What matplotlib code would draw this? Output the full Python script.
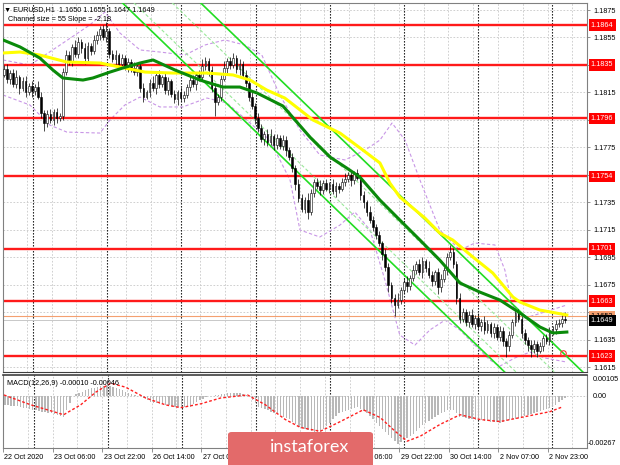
import matplotlib
matplotlib.use("Agg")
import matplotlib.pyplot as plt
import matplotlib.transforms as mtransforms
from matplotlib.patches import FancyBboxPatch

plt.rcParams['font.family'] = ['Liberation Sans', 'DejaVu Sans']

# EURUSD H1, 22 Oct 2020 - 2 Nov 2020 (closes)
closes = [
    1.1832, 1.1825, 1.1829, 1.1821, 1.1826, 1.1818, 1.1823, 1.1815, 1.1820, 1.1816,
    1.1819, 1.1812, 1.1800, 1.1793, 1.1799, 1.1795, 1.1801, 1.1796, 1.1798, 1.1830,
    1.1842, 1.1838, 1.1848, 1.1843, 1.1852, 1.1847, 1.1840, 1.1849, 1.1845, 1.1853,
    1.1857, 1.1861, 1.1855, 1.1860, 1.1843, 1.1839, 1.1842, 1.1836, 1.1840, 1.1834,
    1.1837, 1.1833, 1.1830, 1.1834, 1.1818, 1.1812, 1.1815, 1.1822, 1.1818, 1.1828,
    1.1821, 1.1826, 1.1817, 1.1823, 1.1814, 1.1810, 1.1815, 1.1811, 1.1813, 1.1819,
    1.1824, 1.1821, 1.1828, 1.1826, 1.1834, 1.1838, 1.1831, 1.1818, 1.1808, 1.1812,
    1.1825, 1.1833, 1.1838, 1.1835, 1.1840, 1.1832, 1.1836, 1.1828, 1.1822, 1.1812,
    1.1805, 1.1796, 1.1789, 1.1781, 1.1785, 1.1779, 1.1783, 1.1777, 1.1782, 1.1776,
    1.1780, 1.1773, 1.1768, 1.1760, 1.1748, 1.1738, 1.1730, 1.1737, 1.1728, 1.1742,
    1.1750, 1.1747, 1.1744, 1.1749, 1.1745, 1.1748, 1.1743, 1.1747, 1.1745, 1.1750,
    1.1752, 1.1755, 1.1751, 1.1756, 1.1753, 1.1740, 1.1735, 1.1728, 1.1722, 1.1717,
    1.1711, 1.1705, 1.1697, 1.1688, 1.1675, 1.1665, 1.1660, 1.1664, 1.1671, 1.1677,
    1.1674, 1.1680, 1.1686, 1.1690, 1.1684, 1.1692, 1.1687, 1.1682, 1.1678, 1.1684,
    1.1673, 1.1679, 1.1686, 1.1695, 1.1699, 1.1690, 1.1665, 1.1650, 1.1655, 1.1648,
    1.1653, 1.1646, 1.1651, 1.1645, 1.1648, 1.1642, 1.1646, 1.1640, 1.1644, 1.1637,
    1.1641, 1.1634, 1.1630, 1.1638, 1.1648, 1.1654, 1.1650, 1.1640, 1.1635, 1.1631,
    1.1628, 1.1632, 1.1627, 1.1630, 1.1636, 1.1634, 1.1640, 1.1643, 1.1646, 1.1647,
    1.1650, 1.1649,
]
first_open = 1.1828

# wick lengths in pips above / below the body
upper_wick = [
    3, 4, 2, 3, 5, 2, 3, 4, 2, 3, 2, 4, 3, 2, 3, 4, 2, 3, 2, 3,
    4, 3, 2, 5, 3, 2, 4, 3, 2, 4, 3, 2, 3, 6, 2, 3, 4, 2, 3, 2,
    3, 2, 4, 2, 3, 4, 2, 3, 5, 2, 3, 2, 4, 3, 2, 3, 2, 4, 3, 2,
    3, 4, 2, 3, 5, 3, 2, 3, 4, 2, 3, 5, 2, 3, 4, 2, 3, 2, 3, 2,
    3, 2, 4, 3, 2, 3, 5, 2, 3, 2, 4, 3, 2, 3, 2, 4, 3, 2, 5, 3,
    2, 3, 4, 2, 3, 2, 4, 3, 2, 3, 4, 2, 3, 2, 3, 2, 3, 2, 4, 3,
    2, 3, 2, 4, 3, 2, 3, 5, 2, 3, 4, 2, 3, 2, 4, 3, 2, 5, 3, 2,
    3, 4, 2, 3, 5, 3, 2, 4, 3, 2, 3, 4, 2, 3, 2, 4, 3, 2, 3, 2,
    4, 3, 2, 3, 2, 4, 3, 2, 3, 2, 4, 3, 2, 3, 2, 3, 4, 2, 3, 3,
    3, 5,
]
lower_wick = [
    2, 3, 4, 2, 3, 4, 2, 3, 2, 4, 3, 2, 4, 6, 3, 2, 4, 3, 2, 3,
    2, 3, 4, 2, 3, 3, 4, 2, 3, 2, 3, 4, 2, 3, 3, 2, 4, 3, 2, 3,
    4, 3, 2, 3, 3, 4, 2, 3, 2, 4, 3, 2, 3, 4, 2, 3, 4, 2, 3, 2,
    3, 2, 4, 3, 2, 3, 4, 3, 10, 2, 3, 2, 4, 3, 2, 3, 4, 2, 3, 3,
    2, 4, 3, 2, 4, 3, 2, 4, 3, 2, 3, 4, 2, 3, 4, 3, 2, 3, 5, 2,
    3, 2, 4, 3, 2, 3, 2, 4, 3, 2, 3, 2, 4, 3, 2, 3, 4, 3, 2, 3,
    3, 2, 4, 3, 5, 3, 8, 2, 3, 2, 4, 3, 2, 3, 2, 4, 3, 2, 4, 3,
    5, 3, 2, 4, 2, 3, 4, 3, 2, 3, 4, 2, 3, 2, 4, 3, 2, 3, 4, 2,
    3, 4, 8, 3, 2, 3, 2, 4, 3, 4, 6, 3, 5, 2, 3, 2, 3, 2, 4, 2,
    3, 2,
]

# moving averages (bar index, price)
ma_green_bar = [-0.3, 5.2, 11.6, 15.8, 19.0, 25.5, 28.7, 34.2, 38.4, 43.9, 48.1, 55.2,
                63.2, 70.6, 76.1, 81.6, 90.0, 98.7, 105.2, 110.6, 114.8, 121.3, 127.7,
                134.2, 140.6, 147.1, 153.5, 160.0, 166.5, 172.9, 177.1, 181.6]
ma_green_val = [1.18532, 1.18481, 1.18400, 1.18313, 1.18255, 1.18240, 1.18255, 1.18298,
                1.18328, 1.18364, 1.18386, 1.18313, 1.18240, 1.18189, 1.18189, 1.18146,
                1.18051, 1.17825, 1.17679, 1.17599, 1.17534, 1.17366, 1.17221, 1.17075,
                1.16929, 1.16762, 1.16696, 1.16638, 1.16543, 1.16442, 1.16398, 1.16405]
ma_yellow_bar = [-0.3, 5.2, 11.6, 20.3, 31.0, 37.4, 45.5, 54.5, 65.5, 73.9, 79.4, 84.8,
                 90.6, 99.7, 108.4, 115.8, 121.3, 124.5, 127.7, 135.8, 140.6, 144.8,
                 151.3, 157.7, 164.2, 166.5, 172.9, 181.6]
ma_yellow_val = [1.18437, 1.18444, 1.18422, 1.18371, 1.18364, 1.18335, 1.18298, 1.18291,
                 1.18291, 1.18277, 1.18240, 1.18167, 1.18109, 1.17949, 1.17854, 1.17730,
                 1.17636, 1.17490, 1.17388, 1.17235, 1.17126, 1.17075, 1.16951, 1.16835,
                 1.16660, 1.16623, 1.16565, 1.16529]

# envelope bands (violet dotted)
band_up_bar = [-0.3, 8.4, 18.1, 27.7, 32.6, 37.4, 43.9, 50.3, 58.4, 64.8, 71.3, 77.7,
               83.2, 89.0, 95.5, 101.9, 110.0, 116.5, 121.3, 125.2, 129.4, 134.2, 140.6,
               147.1, 151.9, 158.4, 161.6, 163.9, 168.1, 174.5, 181.6]
band_up_val = [1.18386, 1.18349, 1.18495, 1.18641, 1.18735, 1.18583, 1.18459, 1.18444,
               1.18422, 1.18495, 1.18532, 1.18495, 1.18422, 1.18131, 1.17876, 1.17694,
               1.17658, 1.17730, 1.17803, 1.17927, 1.17803, 1.17512, 1.17148, 1.17002,
               1.17053, 1.17039, 1.16857, 1.16602, 1.16507, 1.16551, 1.16602]
band_lo_bar = [-0.3, 8.4, 14.8, 20.3, 31.0, 34.2, 39.0, 43.9, 50.3, 57.7, 65.5, 71.9,
               79.4, 85.8, 92.3, 95.5, 101.9, 108.4, 113.2, 118.1, 122.9, 127.7, 132.6,
               137.4, 142.3, 147.1, 151.9, 156.8, 160.0, 164.8, 169.7, 174.5, 181.6]
band_lo_val = [1.18131, 1.18058, 1.17912, 1.17861, 1.17854, 1.17949, 1.18058, 1.18116,
               1.18044, 1.18044, 1.18109, 1.18073, 1.17927, 1.17803, 1.17512, 1.17148,
               1.17097, 1.17184, 1.17279, 1.17148, 1.16784, 1.16383, 1.16310, 1.16420,
               1.16492, 1.16420, 1.16310, 1.16201, 1.16157, 1.16216, 1.16259, 1.16216,
               1.16186]

# linear regression channel: size 55 pips, slope -2.18 pips/bar
ch_bar = 37.4
ch_low_price = 1.1882
ch_slope = -0.000218
ch_size = 0.0055
ch_inner = [0.0008, 0.0035]

levels = [1.1864, 1.1835, 1.1796, 1.1754, 1.1701, 1.1663, 1.1623]
bid, ask = 1.1649, 1.1652
touch_bar, touch_price = 180.3, 1.1625

# MACD(12,26,9) histogram, 1e-5 units
macd_hist = [
    -45, -47, -49, -51, -53, -55, -59, -63, -66, -70, -74, -77, -81,
    -84, -87, -90, -94, -97, -102, -107, -70, -35, 0,
    12, 18, 25, 31, 37, 43, 46, 50, 53, 56, 58,
    54, 50, 45, 38, 31, 24, 17, 13, 9, 4, 0,
    -10, -20, -30, -33, -36, -39, -42, -45, -48, -51, -54, -57, -60,
    -58, -57, -55, -43, -31, -19, -13, -6, 0,
    3, 6, 9, 11, 14, 17, 17, 17, 17, 17, 11, 6, 0,
    -18, -37, -55, -61, -68, -74, -81, -87, -94, -101, -108, -115, -122,
    -135, -147, -160, -166, -172, -178, -184, -186, -188, -190,
    -173, -157, -140, -122, -105, -87, -82, -76, -71, -66, -60, -55,
    -66, -76, -87, -104, -121, -138, -155, -172, -190,
    -205, -221, -236, -252, -241, -231, -220, -210,
    -196, -181, -167, -152, -138, -128, -119, -109, -100, -90, -81, -71,
    -71, -71, -89, -107, -111, -115, -118, -122,
    -124, -126, -127, -129, -131, -133, -134, -136, -138,
    -134, -130, -126, -122, -117, -112, -107, -102, -97, -92, -87,
    -82, -76, -71, -66, -60, -55, -44, -32, -21, -9,
]
signal_bar = [-0.3, 8.4, 19.0, 24.5, 29.4, 34.2, 39.0, 45.5, 51.9, 56.8, 63.2, 69.7,
              78.4, 84.2, 90.6, 95.5, 101.9, 108.4, 115.8, 121.3, 126.1, 130.0, 134.2,
              140.6, 147.1, 153.5, 160.0, 166.5, 176.1, 180.3]
signal_val = [7, -45, -97, -45, 22, 69, 48, -9, -45, -60, -40, -9,
              7, -45, -122, -164, -184, -133, -71, -112, -184, -236, -210,
              -148, -97, -122, -133, -112, -81, -55]

time_labels = ["22 Oct 2020", "23 Oct 06:00", "23 Oct 22:00", "26 Oct 14:00", "27 Oct 06:00",
               "27 Oct 22:00", "28 Oct 14:00", "29 Oct 06:00", "29 Oct 22:00", "30 Oct 14:00",
               "2 Nov 07:00", "2 Nov 23:00"]
time_bars = [-0.6 + 16 * k for k in range(len(time_labels))]
grid_bars = [-0.6 + 8 * k for k in range(24)]
day_bars = [9.4, 33.3, 57.2, 81.2, 105.1, 129.0, 152.9, 176.8]
price_ticks = [1.1615 + 0.002 * k for k in range(14)]
# scale labels that sit fully under a level tag are not shown
hidden_ticks = ["1.1835", "1.1755", "1.1655"]

for name, arr in [("upper_wick", upper_wick), ("lower_wick", lower_wick), ("macd_hist", macd_hist)]:
    if len(arr) != len(closes):
        raise SystemExit(f"{name}: {len(arr)} vs {len(closes)}")

opens = [first_open] + closes[:-1]
idx = list(range(len(closes)))

W, H = 620, 465
fig = plt.figure(figsize=(W / 100, H / 100), dpi=100)
ax = fig.add_axes([3 / W, 1 - 372 / H, 584 / W, 369 / H])
axm = fig.add_axes([3 / W, 1 - 448 / H, 584 / W, 73 / H])
xlim = (-0.3, 188.1)

# ---- price panel
ax.set_xlim(*xlim)
ax.set_ylim(1.16114, 1.18801)
for p in price_ticks:
    ax.axhline(p, color="#c8c8c8", lw=0.6, ls=(0, (2, 2)), zorder=0)
for b in grid_bars:
    ax.axvline(b, color="#c8c8c8", lw=0.6, ls=(0, (2, 2)), zorder=0)
    axm.axvline(b, color="#c8c8c8", lw=0.6, ls=(0, (2, 2)), zorder=0)
for b in day_bars:
    ax.axvline(b, color="black", lw=0.8, ls=(0, (1.2, 1.5)), zorder=1)
    axm.axvline(b, color="black", lw=0.8, ls=(0, (1.2, 1.5)), zorder=1)

ax.plot(band_up_bar, band_up_val, color="#c896e6", lw=0.8, ls=(0, (3, 2)), zorder=2)
ax.plot(band_lo_bar, band_lo_val, color="#c896e6", lw=0.8, ls=(0, (3, 2)), zorder=2)

for lvl in levels:
    ax.axhline(lvl, color="#ff1a1a", lw=1.7, zorder=2)
ax.axhline(ask, color="#f4a070", lw=0.8, zorder=2)
ax.axhline(bid, color="#c8c8c8", lw=0.7, zorder=2)

xs = [-2, 192]
low_line = [ch_low_price + ch_slope * (x - ch_bar) for x in xs]
ax.plot(xs, low_line, color="#22dd22", lw=1.2, zorder=3)
ax.plot(xs, [v + ch_size for v in low_line], color="#22dd22", lw=1.2, zorder=3)
for off in ch_inner:
    ax.plot(xs, [v + off for v in low_line], color="#9ae89a", lw=0.8, ls=(0, (3, 2)), zorder=3)

# candles
for i, o, c, u, d in zip(idx, opens, closes, upper_wick, lower_wick):
    top, bot = max(o, c), min(o, c)
    ax.vlines(i, bot - d * 1e-4, top + u * 1e-4, color="black", lw=0.5, zorder=4)
    ax.bar(i, max(top - bot, 0.00004), bottom=bot, width=0.55,
           color="white" if c > o else "black", edgecolor="black", lw=0.4, zorder=5)

ax.plot(ma_yellow_bar, ma_yellow_val, color="#ffff00", lw=2.2, zorder=6)
ax.plot(ma_green_bar, ma_green_val, color="#0a8a0a", lw=2.2, zorder=6)
ax.plot([touch_bar], [touch_price], "o", ms=4, mfc="none", mec="#ff3030", mew=0.8, zorder=7)

ax.set_xticks([])
ax.yaxis.tick_right()
ax.set_yticks(price_ticks)
tick_text = [f"{p:.4f}" for p in price_ticks]
ax.set_yticklabels(["" if t in hidden_ticks else t for t in tick_text])
ax.tick_params(axis="y", length=2.5, width=0.6, color="#808080", labelsize=5.2, pad=2)

tr = mtransforms.blended_transform_factory(ax.transAxes, ax.transData)
for lvl in levels:
    ax.text(1.0065, lvl, f"{lvl:.4f}", transform=tr, color="white", fontsize=5.2,
            va="center", ha="left", zorder=10,
            bbox=dict(boxstyle="square,pad=0.3", fc="#ff0000", ec="none"))
ax.text(1.0065, ask, f"{ask:.4f}", transform=tr, color="black", fontsize=5.2,
        va="center", ha="left", zorder=10,
        bbox=dict(boxstyle="square,pad=0.3", fc="#f4a070", ec="none"))
ax.text(1.0065, bid, f"{bid:.4f}", transform=tr, color="white", fontsize=5.2,
        va="center", ha="left", zorder=11,
        bbox=dict(boxstyle="square,pad=0.3", fc="black", ec="none"))

ax.text(0.002, 0.992, "\u25bc EURUSD,H1  1.1650 1.1655 1.1647 1.1649", transform=ax.transAxes,
        fontsize=5.2, va="top", ha="left", zorder=10)
ax.text(0.009, 0.965, "Channel size = 55 Slope = -2.18", transform=ax.transAxes,
        fontsize=5.2, va="top", ha="left", zorder=10)

# ---- MACD panel
axm.set_xlim(*xlim)
axm.set_ylim(-0.00272, 0.00112)
axm.axhline(0, color="#c0c0c0", lw=0.6, ls=(0, (2, 2)), zorder=1)
axm.bar(idx, [v * 1e-5 for v in macd_hist], width=0.45, color="#b8b8b8", zorder=2)
axm.plot(signal_bar, [v * 1e-5 for v in signal_val], color="#ff2020", lw=1.0,
         ls=(0, (2, 1.5)), zorder=3)
axm.text(0.007, 0.93, "MACD(12,26,9) -0.00010 -0.00046", transform=axm.transAxes,
         fontsize=5.2, va="top", ha="left")
trm = mtransforms.blended_transform_factory(axm.transAxes, axm.transData)
axm.text(1.009, 0.00105, "0.00105", transform=trm, fontsize=5.2, va="top", ha="left")
axm.text(1.009, 0.0, "0.00", transform=trm, fontsize=5.2, va="center", ha="left")
axm.text(1.002, -0.00267, "-0.00267", transform=trm, fontsize=5.2, va="bottom", ha="left")
axm.set_yticks([])
axm.set_xticks(time_bars)
axm.set_xticklabels(time_labels, fontsize=5.2, ha="left")
axm.tick_params(axis="x", length=3, width=0.6, color="#808080", pad=1.5)
offset = mtransforms.ScaledTranslation(1.5 / 100, 0, fig.dpi_scale_trans)
for lab in axm.get_xticklabels():
    lab.set_transform(lab.get_transform() + offset)

for a in (ax, axm):
    for s in a.spines.values():
        s.set_color("#808080")
        s.set_linewidth(0.8)
axm.spines["top"].set_color("#404040")
axm.spines["top"].set_linewidth(1.2)
ax.spines["bottom"].set_color("#404040")

# watermark
fig.patches.append(FancyBboxPatch((228 / W, -0.01), 145 / W, 33 / H + 0.01,
                                  boxstyle="round,pad=0,rounding_size=0.006",
                                  transform=fig.transFigure, fc="#e36a6a", ec="none",
                                  zorder=20))
fig.text(310 / W, 1 - 447 / H, "instaforex", color="white", fontsize=13, family="Lato",
         ha="center", va="center", zorder=21)

fig.savefig("out.png", dpi=100, facecolor="white")
